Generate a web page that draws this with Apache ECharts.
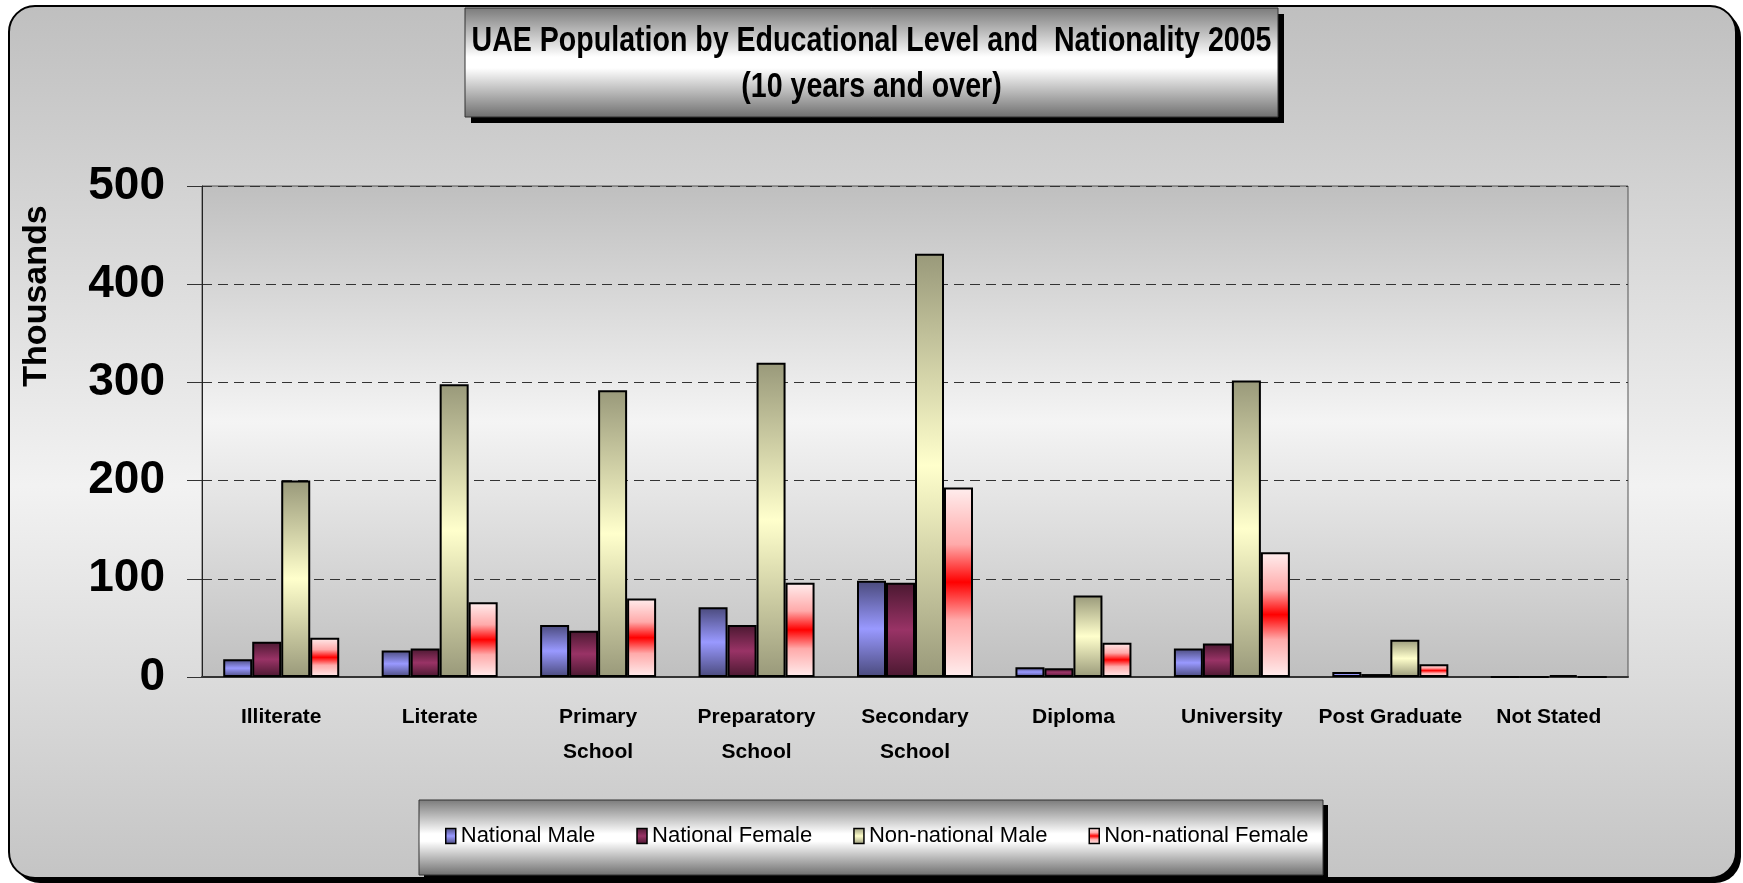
<!DOCTYPE html>
<html>
<head>
<meta charset="utf-8">
<script src="https://cdn.jsdelivr.net/npm/echarts@6/dist/echarts.min.js"></script>
<style>
body { margin: 0; background: #fff; }
#main { width: 1743px; height: 883px; }
</style>
</head>
<body>
<div id="main"></div>
<script>
// categories and values (thousands)
var categories = ['Illiterate', 'Literate', 'Primary\nSchool', 'Preparatory\nSchool', 'Secondary\nSchool', 'Diploma', 'University', 'Post Graduate', 'Not Stated'];
var seriesNames = ['National Male', 'National Female', 'Non-national Male', 'Non-national Female'];
var nationalMale = [18, 27, 53, 71, 98, 10, 29, 5, 0];
var nationalFemale = [36, 29, 47, 53, 96, 9, 34, 3, 0];
var nonNationalMale = [200, 298, 292, 320, 431, 83, 302, 38, 2];
var nonNationalFemale = [40, 76, 80, 96, 193, 35, 127, 13, 0];
var yMin = 0, yMax = 500, yStep = 100;
var titleText = 'UAE Population by Educational Level and  Nationality 2005\n(10 years and over)';

var FONT = '"Liberation Sans", Arial, sans-serif';

function vgrad(stops) {
  return new echarts.graphic.LinearGradient(0, 0, 0, 1, stops.map(function (s) {
    return { offset: s[0], color: s[1] };
  }));
}
function boxGrad() {
  return vgrad([[0, '#7a7a7a'], [0.45, '#ffffff'], [0.55, '#ffffff'], [1, '#6e6e6e']]);
}

var fills = [
  vgrad([[0, '#4a4a7c'], [0.5, '#9999ff'], [1, '#4a4a7c']]),
  vgrad([[0, '#4a1830'], [0.5, '#993366'], [1, '#4a1830']]),
  vgrad([[0, '#99997a'], [0.5, '#ffffcc'], [1, '#99997a']]),
  vgrad([[0, '#ffeeee'], [0.3, '#ffaaaa'], [0.5, '#ff0000'], [0.7, '#ffaaaa'], [1, '#ffeeee']])
];
var values = [nationalMale, nationalFemale, nonNationalMale, nonNationalFemale];

var chart = echarts.init(document.getElementById('main'));
var option = {
  animation: false,
  graphic: [
    // outer rounded frame with shadow
    { type: 'rect', z: -100, shape: { x: 14, y: 11, width: 1727, height: 872, r: 26 }, style: { fill: '#000' } },
    { type: 'rect', z: -99, shape: { x: 9, y: 6, width: 1727, height: 872, r: 26 },
      style: { fill: vgrad([[0, '#bfbfbf'], [0.55, '#f2f2f2'], [1, '#c4c4c4']]), stroke: '#000', lineWidth: 2 } },
    // title box
    { type: 'rect', z: 1, shape: { x: 471, y: 14, width: 813, height: 109 }, style: { fill: '#000' } },
    { type: 'rect', z: 2, shape: { x: 465, y: 8, width: 813, height: 109 }, style: { fill: boxGrad(), stroke: '#333', lineWidth: 1 } },
    // title text (narrow bold look)
    { type: 'text', z: 10, x: 871.5, y: 18, scaleX: 0.816,
      style: { text: titleText, fontFamily: FONT, fontWeight: 'bold', fontSize: 35, lineHeight: 46, fill: '#000', align: 'center', verticalAlign: 'top' } },
    // legend box
    { type: 'rect', z: 1, shape: { x: 424, y: 805, width: 904, height: 75 }, style: { fill: '#000' } },
    { type: 'rect', z: 2, shape: { x: 419, y: 800, width: 904, height: 75 }, style: { fill: boxGrad(), stroke: '#333', lineWidth: 1 } },
    // axis title
    { type: 'text', z: 5, x: 37, y: 296, rotation: Math.PI / 2,
      style: { text: 'Thousands', fontFamily: FONT, fontWeight: 'bold', fontSize: 34, fill: '#000', align: 'center', verticalAlign: 'middle' } }
  ],
  legend: {
    data: seriesNames,
    left: 440,
    top: 820,
    z: 10,
    icon: 'rect',
    itemWidth: 10,
    itemHeight: 15,
    itemGap: 41,
    itemStyle: { borderColor: '#000', borderWidth: 1.5 },
    textStyle: { fontFamily: FONT, fontSize: 22, color: '#000' }
  },
  grid: {
    left: 202,
    right: 1743 - 1628,
    top: 186,
    bottom: 883 - 677,
    show: true,
    backgroundColor: vgrad([[0, '#bfbfbf'], [0.48, '#f4f4f4'], [1, '#bfbfbf']]),
    borderColor: '#555',
    borderWidth: 1
  },
  xAxis: {
    type: 'category',
    data: categories,
    axisLine: { lineStyle: { color: '#333', width: 2 } },
    axisTick: { length: 9, lineStyle: { color: '#333', width: 1 } },
    axisLabel: {
      margin: 23,
      interval: 0,
      color: '#000',
      fontFamily: FONT,
      fontWeight: 'bold',
      fontSize: 21,
      lineHeight: 35
    }
  },
  yAxis: {
    type: 'value',
    min: yMin,
    max: yMax,
    interval: yStep,
    axisLine: { show: true, lineStyle: { color: '#222', width: 1 } },
    axisTick: { show: true, length: 15, lineStyle: { color: '#333' } },
    axisLabel: {
      margin: 37,
      color: '#000',
      fontFamily: FONT,
      fontWeight: 'bold',
      fontSize: 46
    },
    splitLine: { lineStyle: { color: '#333', type: [10, 6], width: 1.2 } }
  },
  series: seriesNames.map(function (name, i) {
    return {
      name: name,
      type: 'bar',
      barWidth: 29,
      barGap: '0%',
      data: values[i],
      itemStyle: { color: fills[i], borderColor: '#000', borderWidth: 2 }
    };
  })
};
chart.setOption(option);
</script>
</body>
</html>
